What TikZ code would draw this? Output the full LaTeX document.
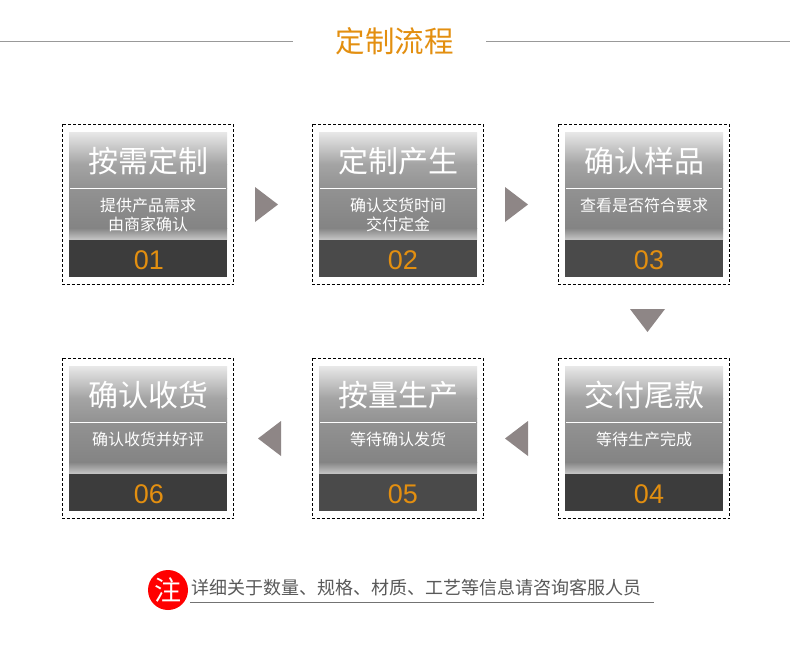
\documentclass[tikz,border=0pt]{standalone}
\usepackage{fontspec}
\setmainfont{Liberation Sans}
\newfontfamily\cjk{Noto Sans CJK SC}
\definecolor{orangetxt}{HTML}{E38F10}
\definecolor{arrowgrey}{HTML}{8E8686}
\definecolor{darkA}{HTML}{3C3C3C}
\definecolor{darkB}{HTML}{4A4A4A}
\definecolor{gA}{HTML}{E8E8E8}
\definecolor{gB}{HTML}{A4A4A4}
\definecolor{gC}{HTML}{929292}
\definecolor{gD}{HTML}{848484}
\definecolor{gE}{HTML}{C8C8C8}
\tikzset{
  x=1pt,y=-1pt,
  dashbox/.style={draw=black,dashed,dash pattern=on 3pt off 2pt,line width=1pt},
  titletxt/.style={text=white,font=\cjk\fontsize{30}{30}\selectfont,inner sep=0pt},
  subtxt/.style={text=white,font=\cjk\fontsize{16}{19}\selectfont,align=center,inner sep=0pt},
  numtxt/.style={text=orangetxt,font=\fontsize{27}{27}\selectfont,inner sep=0pt},
  arrowtri/.style={fill=arrowgrey,draw=none},
}
% #1 name, #2 left x (dashed box), #3 top y, #4 title, #5 sub text, #6 number, #7 band colour, #8 sub y offset, #9 number x offset
\newcommand{\flowcard}[9]{%
  \draw[dashbox] (#2,#3) rectangle ++(171.5,160.5);
  \fill[top color=gA,bottom color=gB] (#2+7,#3+8) rectangle (#2+165,#3+40);
  \fill[top color=gB,bottom color=gC] (#2+7,#3+40) rectangle (#2+165,#3+64);
  \fill[top color=gC,bottom color=gD] (#2+7,#3+64) rectangle (#2+165,#3+104);
  \fill[top color=gD,bottom color=gE] (#2+7,#3+104) rectangle (#2+165,#3+116);
  \fill[#7] (#2+7,#3+116) rectangle (#2+165,#3+153);
  \draw[white,line width=.8pt] (#2+8,#3+64.5) -- (#2+164,#3+64.5);
  \node[titletxt] (#1t) at (#2+86,#3+37) {#4};
  \node[subtxt] (#1s) at (#2+86,#3+#8) {#5};
  \node[numtxt] (#1n) at (#2+#9,#3+136) {#6};
}
\begin{document}
\begin{tikzpicture}
\useasboundingbox (0,0) rectangle (790,646);
\fill[white] (0,0) rectangle (790,646);
% header
\draw[black!40,line width=.8pt] (0,41) -- (293,41);
\draw[black!40,line width=.8pt] (486,41) -- (790,41);
\node[text=orangetxt,font=\cjk\fontsize{29.5}{30}\selectfont,inner sep=0pt] (head) at (394.5,41) {定制流程};
% cards
\flowcard{a}{62}{124}{按需定制}{提供产品需求\\由商家确认}{01}{darkA}{90.5}{87}
\flowcard{b}{312}{124}{定制产生}{确认交货时间\\交付定金}{02}{darkB}{90.5}{91}
\flowcard{c}{558}{124}{确认样品}{查看是否符合要求}{03}{darkB}{81}{91}
\flowcard{d}{558}{358}{交付尾款}{等待生产完成}{04}{darkA}{81}{91}
\flowcard{e}{312}{358}{按量生产}{等待确认发货}{05}{darkB}{81}{91}
\flowcard{f}{62}{358}{确认收货}{确认收货并好评}{06}{darkA}{81}{87}
% arrows
\fill[arrowtri] (255,187) -- (278,204.5) -- (255,222) -- cycle;
\fill[arrowtri] (505,187) -- (528,204.5) -- (505,222) -- cycle;
\fill[arrowtri] (630,309) -- (665,309) -- (647.5,332) -- cycle;
\fill[arrowtri] (528,421) -- (505,438.5) -- (528,456) -- cycle;
\fill[arrowtri] (281,421) -- (258,438.5) -- (281,456) -- cycle;
% note
\draw[black!55,line width=.8pt] (190,602.5) -- (654,602.5);
\node[circle,fill=red,minimum size=40pt,inner sep=0pt,text=white,font=\cjk\fontsize{27}{27}\selectfont] (zhu) at (168,590) {注};
\node[anchor=west,inner sep=0pt,text=black!65,font=\cjk\fontsize{18}{18}\selectfont] (note) at (191,588) {详细关于数量、规格、材质、工艺等信息请咨询客服人员};
\end{tikzpicture}
\end{document}
